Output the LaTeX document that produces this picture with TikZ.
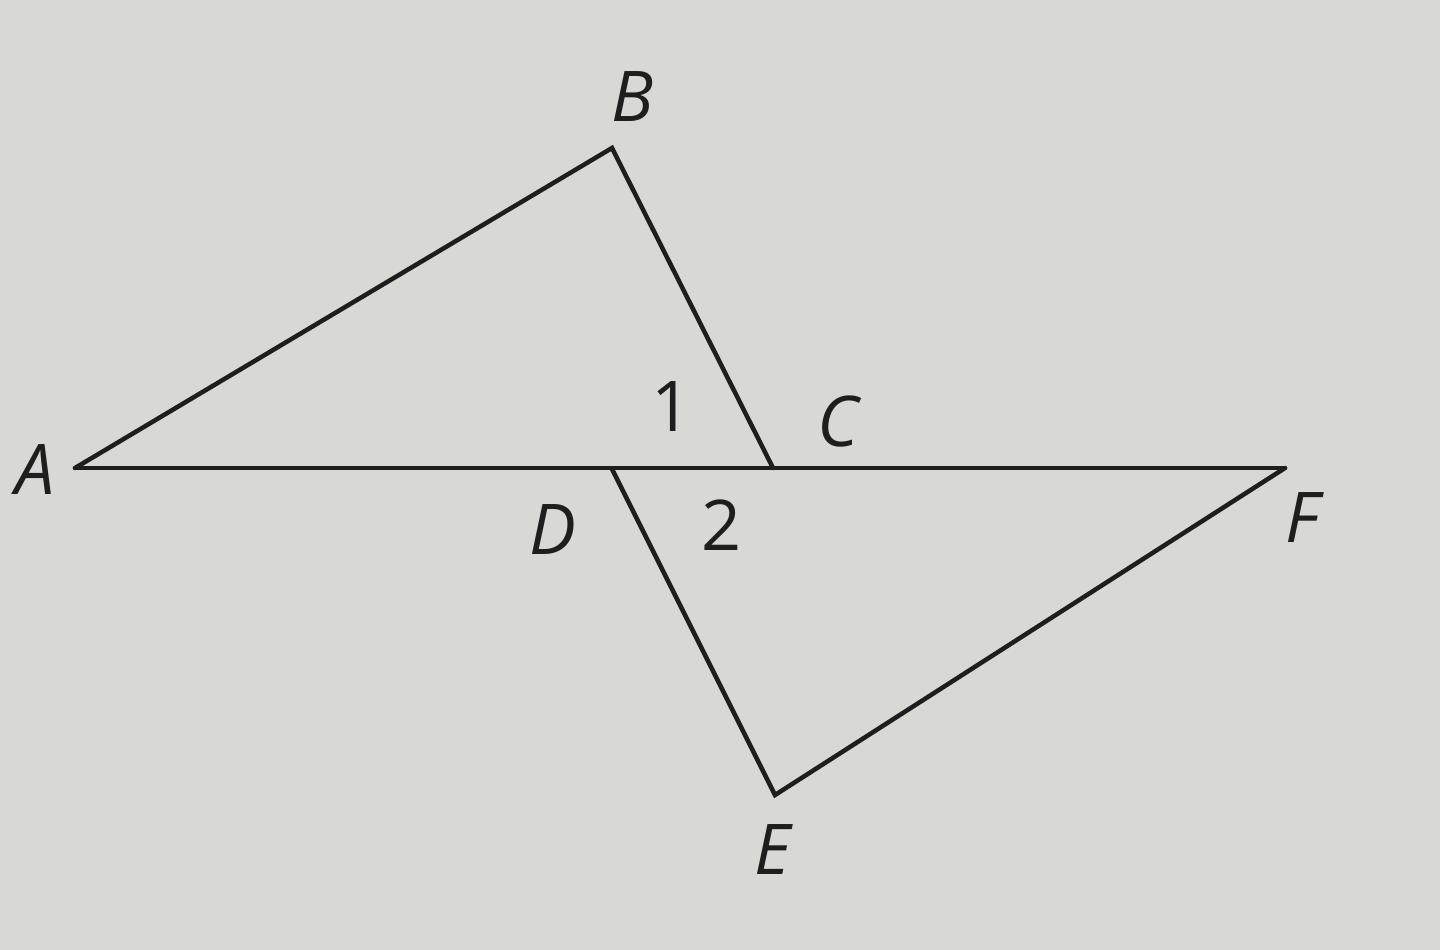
\documentclass[tikz,border=0pt]{standalone}
\usepackage{fontspec}
\setmainfont{Open Sans}
\definecolor{paper}{RGB}{216,216,213}
\definecolor{ink}{RGB}{30,30,30}
\begin{document}
\begin{tikzpicture}[x=1pt,y=-1pt,
  seg/.style={draw=ink,line width=4.5pt,line cap=round,line join=miter},
  lbl/.style={inner sep=0pt,text=ink,font=\fontsize{70}{70}\selectfont\itshape},
  num/.style={inner sep=0pt,text=ink,font=\fontsize{70}{70}\selectfont}]
\fill[paper] (0,0) rectangle (1440,950);
\useasboundingbox (0,0) rectangle (1440,950);
\coordinate (A) at (75,468);
\coordinate (B) at (612,148);
\coordinate (C) at (773,468);
\coordinate (D) at (612,469);
\coordinate (E) at (775,795);
\coordinate (F) at (1285,468);
\draw[seg] (A) -- (F);
\draw[seg] (A) -- (B) -- (C);
\draw[seg] (D) -- (E) -- (F);
\node[lbl] (lB) at (632,97) {B};
\node[lbl] (lA) at (35,470) {A};
\node[lbl] (lC) at (838,421) {C};
\node[lbl] (lD) at (553,530) {D};
\node[lbl] (lF) at (1302,518) {F};
\node[lbl] (lE) at (773,850) {E};
\node[num] (n1) at (672,407) {1};
\node[num] (n2) at (722,525) {2};
\end{tikzpicture}
\end{document}
